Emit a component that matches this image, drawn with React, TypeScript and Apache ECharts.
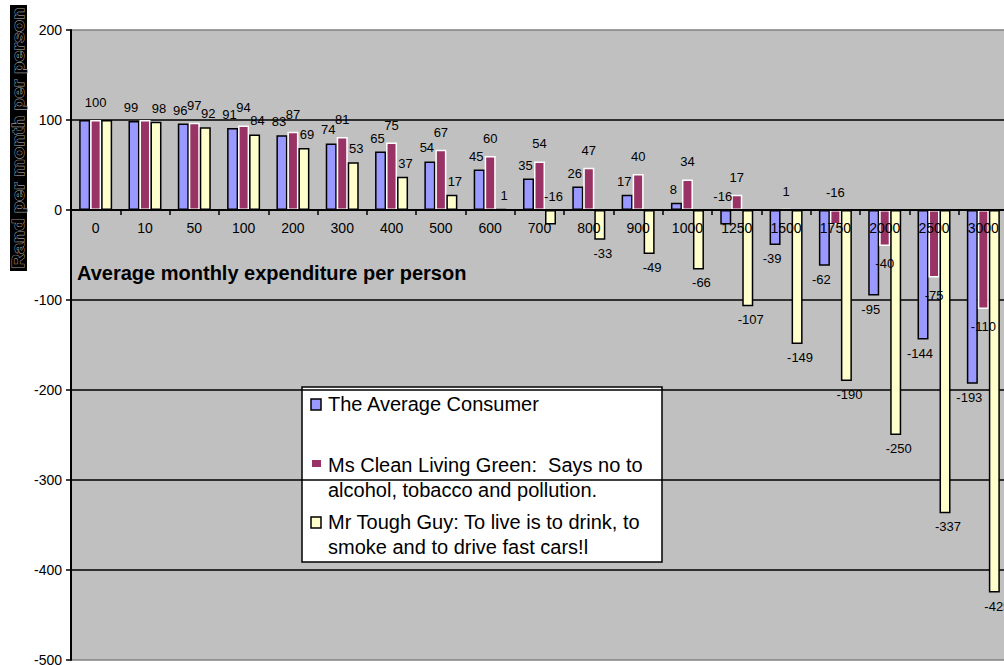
import React, { useEffect, useRef } from 'react';
import * as echarts from 'echarts';

const categories = ['0', '10', '50', '100', '200', '300', '400', '500', '600', '700', '800', '900', '1000', '1250', '1500', '1750', '2000', '2500', '3000'];
const averageConsumer = [100, 99, 96, 91, 83, 74, 65, 54, 45, 35, 26, 17, 8, -16, -39, -62, -95, -144, -193];
const cleanLiving = [100, 100, 97, 94, 87, 81, 75, 67, 60, 54, 47, 40, 34, 17, 1, -16, -40, -75, -110];
const toughGuy = [100, 98, 92, 84, 69, 53, 37, 17, 1, -16, -33, -49, -66, -107, -149, -190, -250, -337, -425];

// indices whose data label is not shown / shown above the axis
const averageHiddenLabels = [0];
const cleanHiddenLabels = [1];
const toughHiddenLabels = [0];
const averageLabelsAbove = [13];
const cleanLabelsAbove = [14, 15];
const toughLabelsAbove = [8, 9];

const yTicks = { min: -500, max: 200, interval: 100 };

const seriesNames = [
  'The Average Consumer',
  'Ms Clean Living Green:  Says no to alcohol, tobacco and pollution.',
  'Mr Tough Guy: To live is to drink, to smoke and to drive fast cars!l',
];

const FONT = 'Arial, "Liberation Sans", sans-serif';

function makeData(values: number[], hidden: number[], above: number[]) {
  return values.map((v, i) => {
    const item: any = { value: v };
    if (hidden.includes(i)) item.label = { show: false };
    else if (above.includes(i)) item.label = { position: 'top' };
    return item;
  });
}

function barSeries(
  name: string,
  values: number[],
  hidden: number[],
  above: number[],
  color: string,
  border: string,
  dist: number,
  dx: number
) {
  return {
    type: 'bar',
    name,
    data: makeData(values, hidden, above),
    barWidth: 11,
    barGap: '0%',
    itemStyle: { color, borderColor: border, borderWidth: 1.5 },
    label: {
      show: true,
      position: 'outside',
      distance: dist,
      offset: [dx, 0],
      fontSize: 13,
      color: '#000',
      fontFamily: FONT,
    },
  };
}

export default function App() {
  const ref = useRef<HTMLDivElement>(null);
  useEffect(() => {
    const chart = echarts.init(ref.current!, null, { renderer: 'svg' });
    const option: any = {
      animation: false,
      backgroundColor: '#ffffff',
      textStyle: { fontFamily: FONT },
      grid: {
        left: 71,
        right: -4,
        top: 30,
        bottom: 5,
        show: true,
        backgroundColor: '#c0c0c0',
        borderWidth: 0,
        containLabel: false,
        outerBoundsMode: 'none',
      },
      xAxis: {
        type: 'category',
        data: categories,
        position: 'bottom',
        offset: -450,
        z: 3,
        axisLine: { onZero: false, lineStyle: { color: '#000', width: 2 } },
        axisTick: { show: true, length: 5, lineStyle: { color: '#000', width: 1.5 } },
        axisLabel: { fontSize: 14, color: '#000', margin: 11, fontFamily: FONT, interval: 0 },
        splitLine: { show: false },
      },
      yAxis: {
        type: 'value',
        min: yTicks.min,
        max: yTicks.max,
        interval: yTicks.interval,
        axisLine: { show: true, lineStyle: { color: '#000', width: 2 } },
        axisTick: { show: true, length: 5, lineStyle: { color: '#000', width: 1.5 } },
        axisLabel: { fontSize: 14, color: '#000', margin: 9, fontFamily: FONT },
        splitLine: {
          show: true,
          lineStyle: {
            color: ['#808080', '#000', '#000', '#000', '#000', '#000', '#000', '#808080'],
            width: 1.5,
          },
        },
      },
      series: [
        barSeries(seriesNames[0], averageConsumer, averageHiddenLabels, averageLabelsAbove, '#9999ff', '#000', 7, -3),
        barSeries(seriesNames[1], cleanLiving, cleanHiddenLabels, cleanLabelsAbove, '#993366', '#ffffff', 11, 0),
        barSeries(seriesNames[2], toughGuy, toughHiddenLabels, toughLabelsAbove, '#ffffcc', '#000', 7, 3),
      ],
      graphic: [
        {
          type: 'rect',
          shape: { x: 10, y: 5, width: 17, height: 266 },
          style: { fill: '#000' },
          z: 10,
        },
        {
          type: 'text',
          x: 18.5,
          y: 138,
          rotation: Math.PI / 2,
          scaleX: 1.17,
          z: 11,
          style: {
            text: 'Rand per month per person',
            fontSize: 17,
            fontWeight: 'bold',
            fontFamily: FONT,
            fill: '#000',
            stroke: '#9a9a9a',
            lineWidth: 1,
            align: 'center',
            verticalAlign: 'middle',
          },
        },
        {
          type: 'text',
          x: 77,
          y: 273,
          z: 10,
          style: {
            text: 'Average monthly expenditure per person',
            fontSize: 20,
            fontWeight: 'bold',
            fontFamily: FONT,
            fill: '#000',
            align: 'left',
            verticalAlign: 'middle',
          },
        },
        {
          type: 'group',
          z: 20,
          children: [
            {
              type: 'rect',
              shape: { x: 302, y: 387, width: 360, height: 175 },
              style: { fill: '#ffffff', stroke: '#000', lineWidth: 1.5 },
            },
            {
              type: 'rect',
              shape: { x: 311, y: 399, width: 10, height: 11 },
              style: { fill: '#9999ff', stroke: '#000', lineWidth: 1.5 },
            },
            {
              type: 'text',
              x: 328,
              y: 404,
              style: { text: 'The Average Consumer', fontSize: 20, fontFamily: FONT, fill: '#000', verticalAlign: 'middle' },
            },
            {
              type: 'rect',
              shape: { x: 312, y: 460, width: 9, height: 7 },
              style: { fill: '#993366' },
            },
            {
              type: 'text',
              x: 328,
              y: 452.5,
              style: {
                text: 'Ms Clean Living Green:  Says no to\nalcohol, tobacco and pollution.',
                fontSize: 20,
                lineHeight: 25,
                fontFamily: FONT,
                fill: '#000',
                verticalAlign: 'top',
              },
            },
            {
              type: 'rect',
              shape: { x: 311, y: 517, width: 10, height: 11 },
              style: { fill: '#ffffcc', stroke: '#000', lineWidth: 1.5 },
            },
            {
              type: 'text',
              x: 328,
              y: 509.5,
              style: {
                text: 'Mr Tough Guy: To live is to drink, to\nsmoke and to drive fast cars!l',
                fontSize: 20,
                lineHeight: 25,
                fontFamily: FONT,
                fill: '#000',
                verticalAlign: 'top',
              },
            },
          ],
        },
      ],
    };
    chart.setOption(option);
    return () => chart.dispose();
  }, []);
  return (
    <div
      ref={ref}
      style={{ position: 'fixed', left: 0, top: 0, width: 1004, height: 665, background: '#fff' }}
    />
  );
}
